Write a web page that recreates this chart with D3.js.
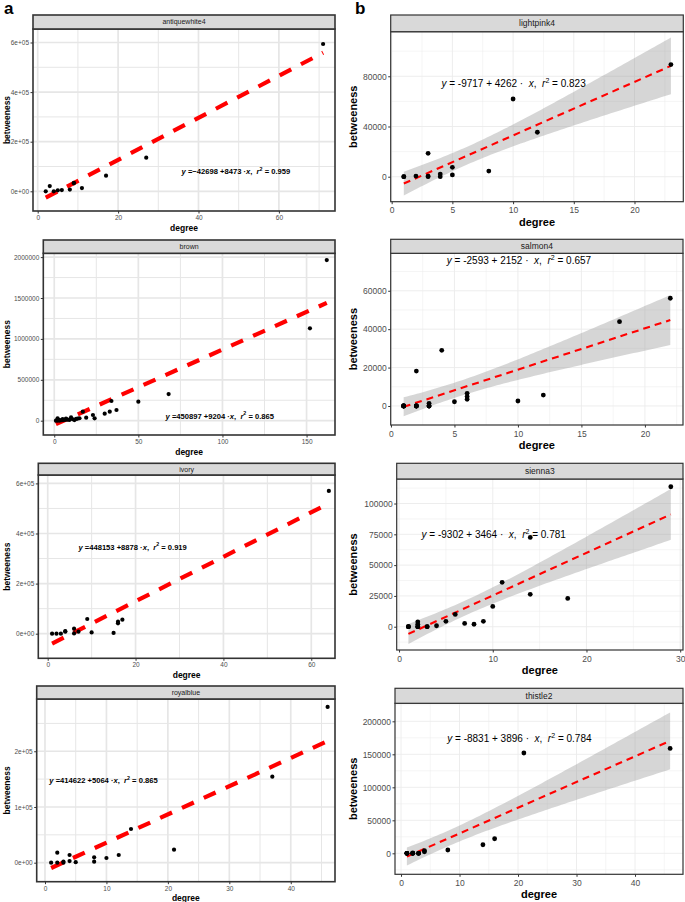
<!DOCTYPE html>
<html>
<head>
<meta charset="utf-8">
<script src="https://cdn.jsdelivr.net/npm/d3@7"></script>
<style>
  body { margin: 0; background: #fff; }
  svg { font-family: "Liberation Sans", Arial, sans-serif; }
  text { white-space: pre; }
</style>
</head>
<body>
<svg id="chart" width="685" height="902"></svg>
<script>
// ---- datos (degree / betweeness por comunidad) ----
// (varios puntos en grado bajo con betweeness 0 quedan superpuestos)
const awDegree  = [2, 3, 4, 5, 6, 8, 9, 9, 11, 17, 27, 71];
const awBetween = [0, 21000, 0, 4000, 5000, 7000, 32000, 34000, 13000, 63000, 135500, 594000];

const brDegree  = [1, 2, 2, 3, 3, 4, 5, 5, 6, 7, 7, 8, 9, 10, 11, 12, 13, 14, 15, 17, 19, 23, 24, 30, 33, 34, 37, 50, 68, 152, 162];
const brBetween = [0, 1000, 30000, 2000, 8000, 4000, 6000, 20000, 9000, 12000, 25000, 14000, 10000, 40000, 18000, 8000, 22000, 26000, 30000, 110000, 37000, 70000, 29000, 86000, 110000, 241000, 131000, 232000, 326000, 1129000, 1964000];

const ivDegree  = [1, 2, 3, 4, 4, 6, 6, 7, 9, 10, 15, 16, 16, 17, 64];
const ivBetween = [0, 0, 0, 8000, 10000, 20000, 1000, 8000, 58700, 5000, 3000, 41500, 48000, 56000, 570000];

const rbDegree  = [1, 2, 2, 3, 3, 4, 4, 5, 8, 8, 10, 12, 14, 21, 37, 46];
const rbBetween = [0, 18000, 0, 2000, 0, 13800, 3000, 1000, 9700, 1800, 8400, 13800, 60500, 23400, 154400, 279500];

const lpDegree  = [1, 1, 2, 3, 3, 3, 4, 4, 5, 5, 8, 10, 12, 23];
const lpBetween = [0, 0, 500, 18600, 500, 0, 2100, 0, 7500, 1400, 4500, 61900, 35400, 89300];

const smDegree  = [1, 1, 1, 1, 1, 2, 2, 2, 2, 2, 3, 3, 3, 3, 4, 5, 6, 6, 6, 10, 12, 18, 22];
const smBetween = [0, 0, 0, 0, 0, 0, 0, 0, 0, 18200, 1400, 0, 0, 0, 29000, 2200, 6600, 4900, 3500, 2600, 5700, 43900, 56100];

const snDegree  = [1, 1, 1, 2, 2, 2, 2, 2, 3, 3, 4, 5, 6, 7, 8, 9, 10, 11, 14, 14, 18, 29];
const snBetween = [0, 0, 0, 0, 0, 0, 4000, 2000, 0, 0, 800, 4400, 10000, 2700, 2000, 4400, 16500, 36000, 72500, 26300, 23000, 113600];

const thDegree  = [1, 1, 1, 1, 2, 2, 2, 2, 3, 3, 3, 4, 4, 8, 14, 16, 21, 46];
const thBetween = [0, 0, 0, 0, 500, 0, 0, 0, 0, 0, 0, 2400, 4000, 5000, 13000, 22100, 152000, 159000];

// coeficientes de la regresión [intercepto, pendiente]
const awCoef = [-42698, 8473], brCoef = [-50897, 9204], ivCoef = [-48153, 8878], rbCoef = [-14622, 5064];
const lpCoef = [-9717, 4262], smCoef = [-2593, 2152], snCoef = [-9302, 3464], thCoef = [-8831, 3896];

// ticks
const awXTicks = [0, 20, 40, 60], awYTicks = [0, 2e5, 4e5, 6e5], awYLabels = ["0e+00", "2e+05", "4e+05", "6e+05"];
const brXTicks = [0, 50, 100, 150], brYTicks = [0, 5e5, 1e6, 1.5e6, 2e6], brYLabels = ["0", "500000", "1000000", "1500000", "2000000"];
const ivXTicks = [0, 20, 40, 60], ivYTicks = [0, 2e5, 4e5, 6e5], ivYLabels = ["0e+00", "2e+05", "4e+05", "6e+05"];
const rbXTicks = [0, 10, 20, 30, 40], rbYTicks = [0, 1e5, 2e5], rbYLabels = ["0e+00", "1e+05", "2e+05"];
const lpXTicks = [0, 5, 10, 15, 20], lpYTicks = [0, 40000, 80000];
const smXTicks = [0, 5, 10, 15, 20], smYTicks = [0, 20000, 40000, 60000];
const snXTicks = [0, 10, 20, 30], snYTicks = [0, 25000, 50000, 75000, 100000];
const thXTicks = [0, 10, 20, 30, 40], thYTicks = [0, 50000, 100000, 150000, 200000];

// cuantiles t (0.975) según grados de libertad
const tQuant = { 10: 2.228, 11: 2.201, 12: 2.179, 16: 2.120, 20: 2.086, 21: 2.080 };

// estilos de cada columna
const styleA = {
  gridMajor: 1.7, gridMinor: 1.0, gridColor: "#e6e6e6", border: 1.6, pointR: 2.1,
  lineW: 4.2, dash: "13,11", tickFont: 6.5, titleFont: 8.5, stripFont: 7, eqFont: 7.6,
  eqWeight: "bold", tickY: 9, titleY: 19.5, yTitleX: 7
};
const styleB = {
  gridMajor: 0.9, gridMinor: 0.5, gridColor: "#ebebeb", border: 1.2, pointR: 2.4,
  lineW: 2.1, dash: "7,5", tickFont: 8.5, titleFont: 11, stripFont: 8.5, eqFont: 10,
  eqWeight: "normal", tickY: 11.5, titleY: 24, yTitleX: 353.5
};

const panels = [
  { name: "antiquewhite4", deg: awDegree, bet: awBetween, coef: awCoef, r2: "0.959", mid: " =\u221242698 +8473 \u00b7", se: false, st: styleA,
    xTicks: awXTicks, yTicks: awYTicks, yLabels: awYLabels, xDomain: [-1.17, 73.96], yDomain: [-79400, 654400],
    box: [33, 29, 335, 211], stripTop: 15, eqAt: [35.8, 69800] },
  { name: "brown", deg: brDegree, bet: brBetween, coef: brCoef, r2: "0.865", mid: " =450897 +9204 \u00b7", se: false, st: styleA,
    xTicks: brXTicks, yTicks: brYTicks, yLabels: brYLabels, xDomain: [-6.5, 166.9], yDomain: [-174800, 2046500],
    box: [43.3, 253.3, 335, 435], stripTop: 240, eqAt: [66.2, 26900] },
  { name: "ivory", deg: ivDegree, bet: ivBetween, coef: ivCoef, r2: "0.919", mid: " =448153 +8878 \u00b7", se: false, st: styleA,
    xTicks: ivXTicks, yTicks: ivYTicks, yLabels: ivYLabels, xDomain: [-2.14, 65.4], yDomain: [-98200, 633500],
    box: [38.3, 475, 335, 658.3], stripTop: 463.3, eqAt: [7, 336100] },
  { name: "royalblue", deg: rbDegree, bet: rbBetween, coef: rbCoef, r2: "0.865", mid: " =414622 +5064 \u00b7", se: false, st: styleA,
    xTicks: rbXTicks, yTicks: rbYTicks, yLabels: rbYLabels, xDomain: [-1.35, 47.2], yDomain: [-34100, 293800],
    box: [36.7, 699, 335, 881.7], stripTop: 686, eqAt: [0.7, 143000] },
  { name: "lightpink4", deg: lpDegree, bet: lpBetween, coef: lpCoef, r2: "0.823", mid: " = -9717 + 4262 \u00b7  ", se: true, st: styleB,
    xTicks: lpXTicks, yTicks: lpYTicks, xDomain: [-0.08, 24.02], yDomain: [-19900, 115500],
    box: [390.7, 31.7, 683.3, 201.7], stripTop: 15, eqAt: [4.1, 71500] },
  { name: "salmon4", deg: smDegree, bet: smBetween, coef: smCoef, r2: "0.657", mid: " = -2593 + 2152 \u00b7  ", se: true, st: styleB,
    xTicks: smXTicks, yTicks: smYTicks, xDomain: [-0.02, 23], yDomain: [-9900, 79500],
    box: [390.7, 253.3, 683, 425], stripTop: 239.3, eqAt: [4.4, 73800] },
  { name: "sienna3", deg: snDegree, bet: snBetween, coef: snCoef, r2: "0.781", mid: " = -9302 + 3464 \u00b7  ", se: true, st: styleB,
    xTicks: snXTicks, yTicks: snYTicks, xDomain: [-0.25, 30.3], yDomain: [-18900, 119900],
    box: [396.7, 479, 683, 650], stripTop: 463.3, eqAt: [2.4, 71800] },
  { name: "thistle2", deg: thDegree, bet: thBetween, coef: thCoef, r2: "0.784", mid: " = -8831 + 3896 \u00b7  ", se: true, st: styleB,
    xTicks: thXTicks, yTicks: thYTicks, xDomain: [-1.03, 48.2], yDomain: [-31800, 227300],
    box: [395, 703.3, 683, 874.3], stripTop: 688.3, eqAt: [7.9, 169100] }
];

const svg = d3.select("#chart");
svg.append("rect").attr("width", 685).attr("height", 902).attr("fill", "#fff");

// etiquetas de los paneles
svg.append("text").attr("x", 4).attr("y", 14).attr("font-size", 17).attr("font-weight", "bold").text("a");
svg.append("text").attr("x", 355).attr("y", 14).attr("font-size", 17).attr("font-weight", "bold").text("b");

panels.forEach(drawPanel);

function drawPanel(p) {
  const st = p.st;
  const [x0, y0, x1, y1] = p.box;
  const x = d3.scaleLinear().domain(p.xDomain).range([x0, x1]);
  const y = d3.scaleLinear().domain(p.yDomain).range([y1, y0]);
  const g = svg.append("g");

  // líneas de la cuadrícula (menores en los puntos medios)
  const mid = t => t.slice(0, -1).map((v, i) => (v + t[i + 1]) / 2);
  const step = t => t[1] - t[0];
  const xMinor = mid(p.xTicks).concat([p.xTicks[p.xTicks.length - 1] + step(p.xTicks) / 2, p.xTicks[0] - step(p.xTicks) / 2])
    .filter(v => v > p.xDomain[0] && v < p.xDomain[1]);
  const yMinor = mid(p.yTicks).concat([p.yTicks[p.yTicks.length - 1] + step(p.yTicks) / 2, p.yTicks[0] - step(p.yTicks) / 2])
    .filter(v => v > p.yDomain[0] && v < p.yDomain[1]);

  g.selectAll(null).data(xMinor).enter().append("line")
    .attr("x1", d => x(d)).attr("x2", d => x(d)).attr("y1", y0).attr("y2", y1)
    .attr("stroke", st.gridColor).attr("stroke-width", st.gridMinor);
  g.selectAll(null).data(yMinor).enter().append("line")
    .attr("y1", d => y(d)).attr("y2", d => y(d)).attr("x1", x0).attr("x2", x1)
    .attr("stroke", st.gridColor).attr("stroke-width", st.gridMinor);
  g.selectAll(null).data(p.xTicks).enter().append("line")
    .attr("x1", d => x(d)).attr("x2", d => x(d)).attr("y1", y0).attr("y2", y1)
    .attr("stroke", st.gridColor).attr("stroke-width", st.gridMajor);
  g.selectAll(null).data(p.yTicks).enter().append("line")
    .attr("y1", d => y(d)).attr("y2", d => y(d)).attr("x1", x0).attr("x2", x1)
    .attr("stroke", st.gridColor).attr("stroke-width", st.gridMajor);

  const pts = p.deg.map((d, i) => ({ x: d, y: p.bet[i] }));
  const [b0, b1] = p.coef;
  const fit = v => b0 + b1 * v;
  const xmin = d3.min(p.deg), xmax = d3.max(p.deg);

  // banda de confianza (como geom_smooth)
  if (p.se) {
    const n = pts.length;
    const xbar = d3.mean(p.deg);
    const sxx = d3.sum(p.deg, v => (v - xbar) ** 2);
    const s = Math.sqrt(d3.sum(pts, d => (d.y - fit(d.x)) ** 2) / (n - 2));
    const t = tQuant[n - 2] || 2.1;
    const grid = d3.range(0, 81).map(i => xmin + (xmax - xmin) * i / 80);
    const band = grid.map(v => {
      const h = t * s * Math.sqrt(1 / n + (v - xbar) ** 2 / sxx);
      return { x: v, lo: fit(v) - h, hi: fit(v) + h };
    });
    g.append("path").datum(band)
      .attr("d", d3.area().x(d => x(d.x)).y0(d => y(d.lo)).y1(d => y(d.hi)))
      .attr("fill", "#999999").attr("fill-opacity", 0.4);
  }

  // recta de regresión
  g.append("line")
    .attr("x1", x(xmin)).attr("y1", y(fit(xmin)))
    .attr("x2", x(xmax)).attr("y2", y(fit(xmax)))
    .attr("stroke", "#ff0000").attr("stroke-width", st.lineW)
    .attr("stroke-dasharray", st.dash);

  // puntos
  g.selectAll(null).data(pts).enter().append("circle")
    .attr("cx", d => x(d.x)).attr("cy", d => y(d.y)).attr("r", st.pointR)
    .attr("fill", "#000");

  // ecuación
  const eq = g.append("text")
    .attr("x", x(p.eqAt[0])).attr("y", y(p.eqAt[1]))
    .attr("font-size", st.eqFont).attr("font-weight", st.eqWeight).attr("fill", "#000");
  eq.append("tspan").attr("font-style", "italic").text("y");
  eq.append("tspan").text(p.mid);
  eq.append("tspan").attr("font-style", "italic").text("x");
  eq.append("tspan").text(",  ");
  eq.append("tspan").attr("font-style", "italic").text("r");
  eq.append("tspan").attr("dy", -st.eqFont * 0.4).attr("font-size", st.eqFont * 0.7).text("2");
  eq.append("tspan").attr("dy", st.eqFont * 0.4).text(" = " + p.r2);

  // borde del panel
  g.append("rect").attr("x", x0).attr("y", y0).attr("width", x1 - x0).attr("height", y1 - y0)
    .attr("fill", "none").attr("stroke", "#333").attr("stroke-width", st.border);

  // tira con el nombre
  g.append("rect").attr("x", x0).attr("y", p.stripTop).attr("width", x1 - x0).attr("height", y0 - p.stripTop)
    .attr("fill", "#d9d9d9").attr("stroke", "#333").attr("stroke-width", st.border);
  g.append("text").attr("x", (x0 + x1) / 2).attr("y", (p.stripTop + y0) / 2)
    .attr("dy", "0.35em").attr("text-anchor", "middle")
    .attr("font-size", st.stripFont).attr("fill", "#1a1a1a").text(p.name);

  // ejes
  const xAxis = d3.axisBottom(x).tickValues(p.xTicks).tickSize(2.5).tickPadding(1).tickFormat(d3.format("d"));
  const yAxis = d3.axisLeft(y).tickValues(p.yTicks).tickSize(2.5).tickPadding(1.5)
    .tickFormat((d, i) => p.yLabels ? p.yLabels[i] : d3.format("d")(d));

  const gx = g.append("g").attr("transform", `translate(0,${y1})`).call(xAxis);
  const gy = g.append("g").attr("transform", `translate(${x0},0)`).call(yAxis);
  [gx, gy].forEach(a => {
    a.select(".domain").remove();
    a.selectAll(".tick line").attr("stroke", "#333").attr("stroke-width", 1);
    a.selectAll(".tick text").attr("font-size", st.tickFont).attr("fill", "#4d4d4d")
      .attr("font-family", "Liberation Sans, Arial, sans-serif");
  });
  gx.selectAll(".tick text").attr("dy", null).attr("y", st.tickY).attr("dominant-baseline", "auto");

  // títulos de ejes
  g.append("text").attr("x", (x0 + x1) / 2).attr("y", y1 + st.titleY)
    .attr("text-anchor", "middle").attr("font-size", st.titleFont).attr("font-weight", "bold").text("degree");
  g.append("text")
    .attr("transform", `translate(${st.yTitleX},${(y0 + y1) / 2}) rotate(-90)`)
    .attr("dy", "0.35em").attr("text-anchor", "middle")
    .attr("font-size", st.titleFont).attr("font-weight", "bold").text("betweeness");
}
</script>
</body>
</html>
